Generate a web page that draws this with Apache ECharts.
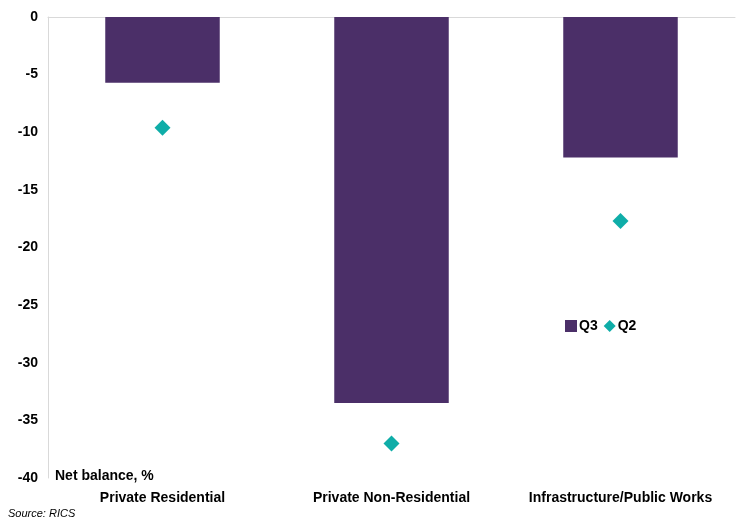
<!DOCTYPE html>
<html lang="en">
<head>
    <meta charset="UTF-8">
    <title>RICS net balance</title>
    <script src="https://cdn.jsdelivr.net/npm/echarts@6/dist/echarts.min.js"></script>
</head>
<body style="margin:0">
<div id="my" style="width: 740px;height: 523px;"></div>
<script>
    // categories and values
    var categories = ['Private Residential', 'Private Non-Residential', 'Infrastructure/Public Works']
    var q3 = [-5.7, -33.5, -12.2]
    var q2 = [-9.6, -37.0, -17.7]
    var yTicks = [0, -5, -10, -15, -20, -25, -30, -35, -40]

    var purple = '#4B2F68'
    var teal = '#0FADA8'
    var font = 'Liberation Sans, Arial, sans-serif'

    var mCharts = echarts.init(document.getElementById('my'))
    var option = {
        animation: false,
        textStyle: {fontFamily: font},
        grid: {left: 48, right: 5, top: 17, bottom: 45, containLabel: false},
        legend: {
            left: 560, top: 314,
            itemGap: 6,
            itemWidth: 12, itemHeight: 12,
            textStyle: {fontWeight: 'bold', fontSize: 14, color: '#000', padding: [0, 0, 0, -3]},
            data: [
                {name: 'Q3', icon: 'rect'},
                {name: 'Q2', icon: 'diamond', itemStyle: {color: teal, opacity: 1}}
            ]
        },
        graphic: [
            {type: 'text', left: 55, top: 469, style: {text: 'Net balance, %', font: 'bold 14px ' + font, fill: '#000'}},
            {type: 'text', left: 8, top: 508, style: {text: 'Source: RICS', font: 'italic 11px ' + font, fill: '#000'}}
        ],
        xAxis: {
            type: 'category',
            position: 'top',
            data: categories,
            axisLine: {show: true, onZero: false, lineStyle: {color: '#d9d9d9'}},
            axisTick: {show: false},
            axisLabel: {show: false}
        },
        yAxis: {
            type: 'value',
            min: -40, max: 0, interval: 5,
            axisLine: {show: true, lineStyle: {color: '#d9d9d9'}},
            axisTick: {show: false},
            splitLine: {show: false},
            axisLabel: {fontWeight: 'bold', fontSize: 14, color: '#000', margin: 10}
        },
        series: [
            {
                name: 'Q3', type: 'bar', data: q3, barWidth: '50%',
                itemStyle: {color: purple}
            },
            {
                name: 'Q2', type: 'scatter', data: q2, symbol: 'diamond', symbolSize: 16,
                itemStyle: {color: teal, opacity: 1}
            },
            {
                // category labels below the plot
                type: 'scatter', data: categories.map(function (c) { return [c, -40] }),
                symbolSize: 0, silent: true,
                itemStyle: {opacity: 1},
                label: {show: true, position: 'bottom', distance: 13, formatter: function (p) { return p.value[0] },
                    fontWeight: 'bold', fontSize: 14, color: '#000', opacity: 1}
            }
        ]
    }
    mCharts.setOption(option)
</script>
</body>
</html>
